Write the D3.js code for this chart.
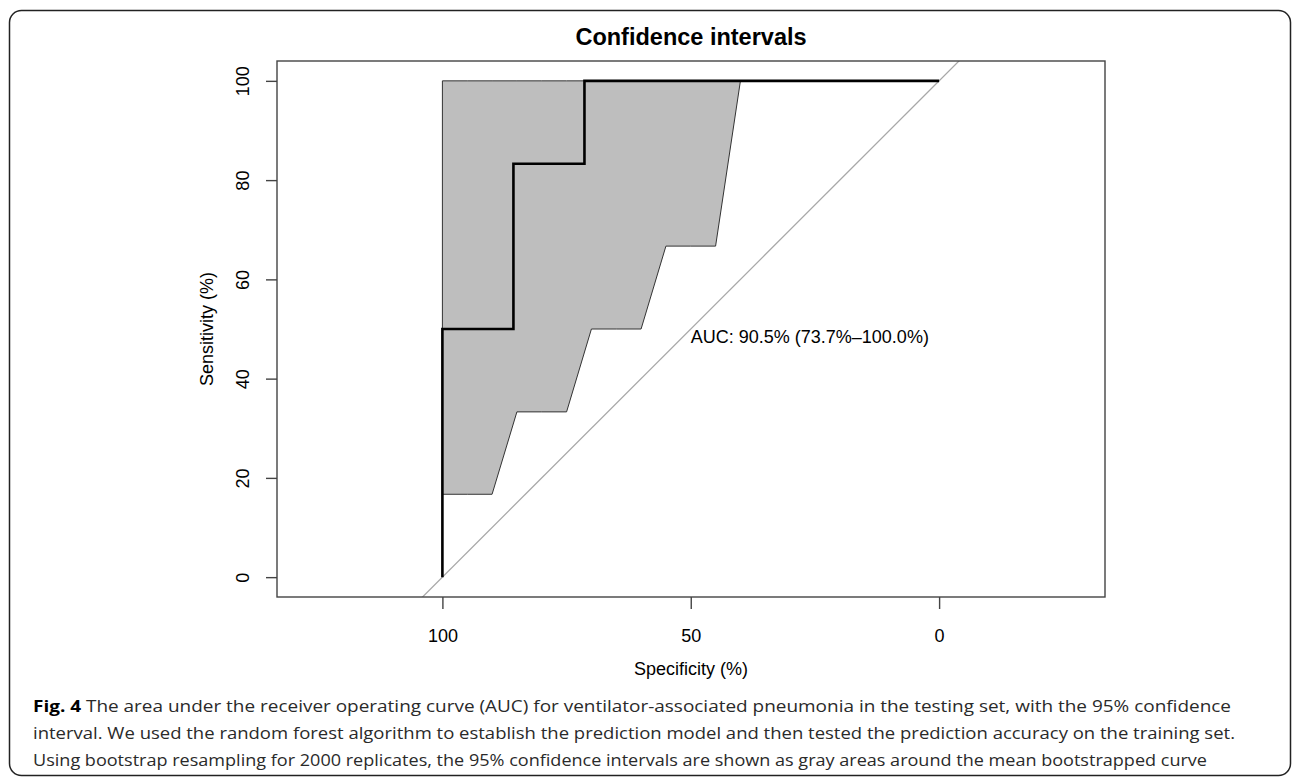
<!DOCTYPE html>
<html>
<head>
<meta charset="utf-8">
<script src="https://cdn.jsdelivr.net/npm/d3@7"></script>
<style>
  body { margin: 0; background: #fff; }
  svg text { font-family: "Liberation Sans", Arial, sans-serif; }
  svg text.cap { font-family: "Open Sans", "Liberation Sans", sans-serif; font-size: 16.5px; fill: #2a2a2a; }
</style>
</head>
<body>
<div id="chart"></div>
<script>
var W = 1293, H = 780;

// ROC curve (mean bootstrapped), specificity / sensitivity in %
var rocSpec = [100, 100, 85.7, 85.7, 71.4, 71.4, 57.1, 42.9, 28.6, 14.3, 0];
var rocSens = [0, 50, 50, 83.3, 83.3, 100, 100, 100, 100, 100, 100];

// 95% CI of sensitivity at each specificity
var ciSpec  = [100, 95, 90, 85, 80, 75, 70, 65, 60, 55, 50, 45, 40, 35, 30, 25, 20, 15, 10, 5, 0];
var ciLower = [16.7, 16.7, 16.7, 33.3, 33.3, 33.3, 50, 50, 50, 66.7, 66.7, 66.7, 100, 100, 100, 100, 100, 100, 100, 100, 100];
var ciUpper = [100, 100, 100, 100, 100, 100, 100, 100, 100, 100, 100, 100, 100, 100, 100, 100, 100, 100, 100, 100, 100];

var xTicks = [100, 50, 0];
var yTicks = [0, 20, 40, 60, 80, 100];

var title = "Confidence intervals";
var xLabel = "Specificity (%)";
var yLabel = "Sensitivity (%)";
var aucText = "AUC: 90.5% (73.7%\u2013100.0%)";
var captionBold = "Fig. 4";
var captionLines = [
  " The area under the receiver operating curve (AUC) for ventilator-associated pneumonia in the testing set, with the 95% confidence",
  "interval. We used the random forest algorithm to establish the prediction model and then tested the prediction accuracy on the training set.",
  "Using bootstrap resampling for 2000 replicates, the 95% confidence intervals are shown as gray areas around the mean bootstrapped curve"
];

var box = {left: 277, right: 1105, top: 61, bottom: 597};

var svg = d3.select("#chart").append("svg")
  .attr("width", W)
  .attr("height", H);

// outer frame
svg.append("rect")
  .attr("x", 9.5).attr("y", 10.5)
  .attr("width", 1281).attr("height", 765)
  .attr("rx", 12).attr("ry", 12)
  .style("fill", "none").style("stroke", "#222").style("stroke-width", 1.5);

var x = d3.scaleLinear().domain([133.3, -33.4]).range([box.left, box.right]);
var y = d3.scaleLinear().domain([-4, 104]).range([box.bottom, box.top]);

svg.append("clipPath").attr("id", "plotclip")
  .append("rect")
  .attr("x", box.left).attr("y", box.top)
  .attr("width", box.right - box.left).attr("height", box.bottom - box.top);

var plot = svg.append("g").attr("clip-path", "url(#plotclip)");

// CI polygon: lower bound forward, upper bound back
var ciPts = ciSpec.map(function (s, i) { return [s, ciLower[i]]; })
  .concat(ciSpec.map(function (s, i) { return [s, ciUpper[i]]; }).reverse());

plot.append("path")
  .datum(ciPts)
  .attr("d", d3.line().x(function (d) { return x(d[0]); }).y(function (d) { return y(d[1]); }).curve(d3.curveLinearClosed))
  .style("fill", "#bebebe")
  .style("stroke", "#333")
  .style("stroke-width", 1);

// chance diagonal
plot.append("line")
  .attr("x1", x(110)).attr("y1", y(-10))
  .attr("x2", x(-10)).attr("y2", y(110))
  .style("stroke", "#a8a8a8")
  .style("stroke-width", 1.3);

// ROC curve
plot.append("path")
  .datum(rocSpec.map(function (s, i) { return [s, rocSens[i]]; }))
  .attr("d", d3.line().x(function (d) { return x(d[0]); }).y(function (d) { return y(d[1]); }))
  .style("fill", "none")
  .style("stroke", "#000")
  .style("stroke-width", 2.6)
  .style("stroke-linejoin", "miter");

// plot box
svg.append("rect")
  .attr("x", box.left).attr("y", box.top)
  .attr("width", box.right - box.left).attr("height", box.bottom - box.top)
  .style("fill", "none").style("stroke", "#444").style("stroke-width", 1.4);

// axes
var xAxis = svg.append("g")
  .attr("transform", "translate(0," + box.bottom + ")")
  .call(d3.axisBottom(x).tickValues(xTicks).tickSize(12).tickSizeOuter(0).tickPadding(20));
var yAxis = svg.append("g")
  .attr("transform", "translate(" + box.left + ",0)")
  .call(d3.axisLeft(y).tickValues(yTicks).tickSize(11).tickSizeOuter(0).tickPadding(22));

[xAxis, yAxis].forEach(function (a) {
  a.select(".domain").remove();
  a.selectAll(".tick line").style("stroke", "#444").style("stroke-width", 1.4);
  a.selectAll(".tick text")
    .style("font-size", "18px")
    .style("fill", "#000")
    .style("font-family", "'Liberation Sans', Arial, sans-serif");
});

xAxis.selectAll(".tick text").attr("dy", "0.71em");

yAxis.selectAll(".tick text")
  .attr("x", null).attr("dy", null)
  .attr("text-anchor", "middle")
  .attr("dominant-baseline", "central")
  .attr("transform", "translate(-34,0) rotate(-90)");

// AUC label
svg.append("text")
  .attr("x", x(50)).attr("y", y(50))
  .attr("dy", "0.8em")
  .style("font-size", "18px")
  .text(aucText);

// titles
svg.append("text")
  .attr("x", (box.left + box.right) / 2).attr("y", 45)
  .attr("text-anchor", "middle")
  .style("font-size", "23.5px").style("font-weight", "bold")
  .text(title);

svg.append("text")
  .attr("x", (box.left + box.right) / 2).attr("y", 675)
  .attr("text-anchor", "middle")
  .style("font-size", "18px")
  .text(xLabel);

svg.append("text")
  .attr("transform", "translate(213," + ((box.top + box.bottom) / 2) + ") rotate(-90)")
  .attr("text-anchor", "middle")
  .style("font-size", "18px")
  .text(yLabel);

// caption
var lineY = [712, 739, 766];
var lineW = [1198, 1202, 1174];

var first = svg.append("text").attr("class", "cap").attr("x", 33).attr("y", lineY[0])
  .attr("textLength", lineW[0]).attr("lengthAdjust", "spacingAndGlyphs");
first.append("tspan").style("font-weight", "bold").style("fill", "#000").text(captionBold);
first.append("tspan").text(captionLines[0]);

svg.selectAll("text.rest")
  .data(captionLines.slice(1))
  .enter().append("text")
  .attr("class", "cap rest")
  .attr("x", 33)
  .attr("y", function (d, i) { return lineY[i + 1]; })
  .attr("textLength", function (d, i) { return lineW[i + 1]; })
  .attr("lengthAdjust", "spacingAndGlyphs")
  .text(function (d) { return d; });
</script>
</body>
</html>
